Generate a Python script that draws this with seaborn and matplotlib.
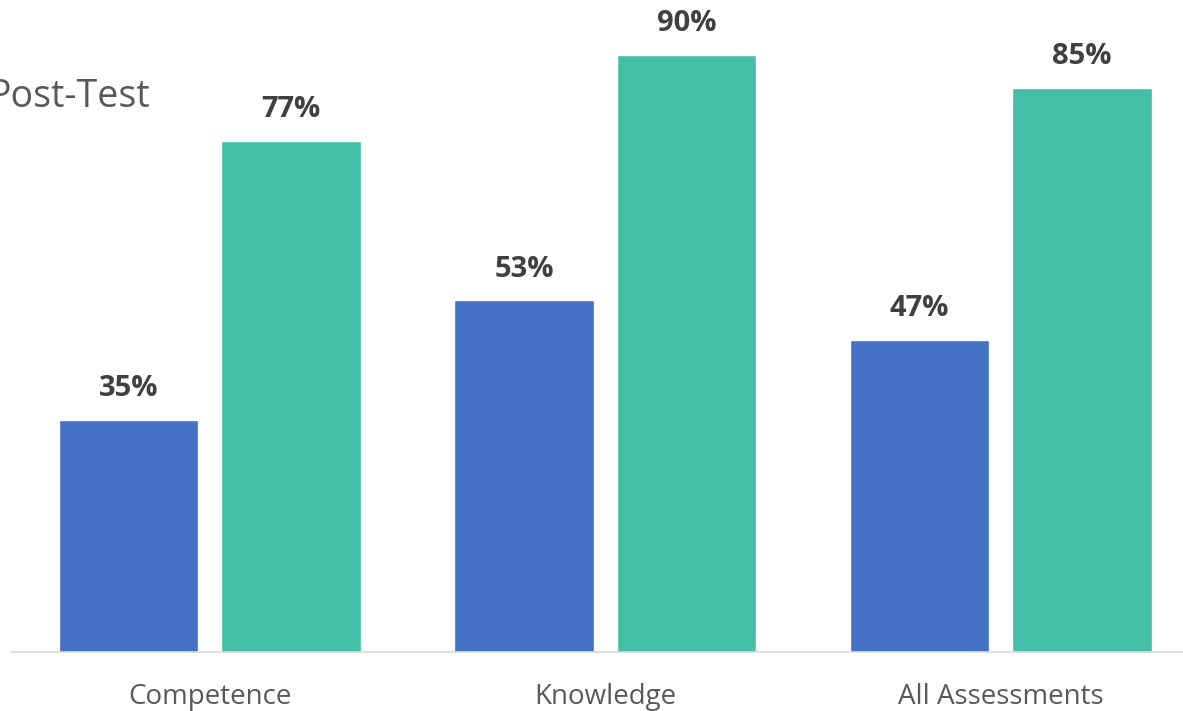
import matplotlib
matplotlib.use("Agg")
import matplotlib.pyplot as plt
import seaborn as sns
import pandas as pd

categories = ["Competence", "Knowledge", "All Assessments"]
series_names = ["Pre-Test", "Post-Test"]
pre_test = [35, 53, 47]
post_test = [77, 90, 85]

colors = {"Pre-Test": "#4472C4", "Post-Test": "#43BFA7"}

df = pd.DataFrame({
    "Category": categories * 2,
    "Series": [series_names[0]] * 3 + [series_names[1]] * 3,
    "Value": pre_test + post_test,
})

sns.set_theme(style="white")
plt.rcParams["font.family"] = ["Open Sans", "DejaVu Sans"]

W, H = 1183, 711
fig = plt.figure(figsize=(W / 100, H / 100), dpi=100)
# axes placed so the plot matches the cropped reference
left_px, base_px = 12, 652
unit_px = 395.5
ax_w_px = 3 * unit_px
ax_h_px = 663.5
ax = fig.add_axes([left_px / W, (H - base_px) / H, ax_w_px / W, ax_h_px / H])

sns.barplot(data=df, x="Category", y="Value", hue="Series", order=categories,
            hue_order=series_names, palette=colors, width=0.82, gap=0.14,
            saturation=1, ax=ax, legend=False)

ax.set_xlim(-0.5, 2.5)
ax.set_ylim(0, 100)
ax.set_xlabel("")
ax.set_ylabel("")
ax.set_yticks([])
for s in ["top", "right", "left"]:
    ax.spines[s].set_visible(False)
ax.spines["bottom"].set_color("#D9D9D9")
ax.spines["bottom"].set_linewidth(1.2)
ax.tick_params(axis="x", length=0, pad=22, labelsize=20, labelcolor="#595959")

for container in ax.containers:
    ax.bar_label(container, labels=[f"{v:.0f}%" for v in container.datavalues],
                 padding=12, fontsize=21, fontweight="bold", color="#404040")

fig.text(150 / W, 1 - 107 / H, "Post-Test", ha="right", va="baseline",
         fontsize=27, color="#595959")

fig.savefig("out.png", dpi=100)
